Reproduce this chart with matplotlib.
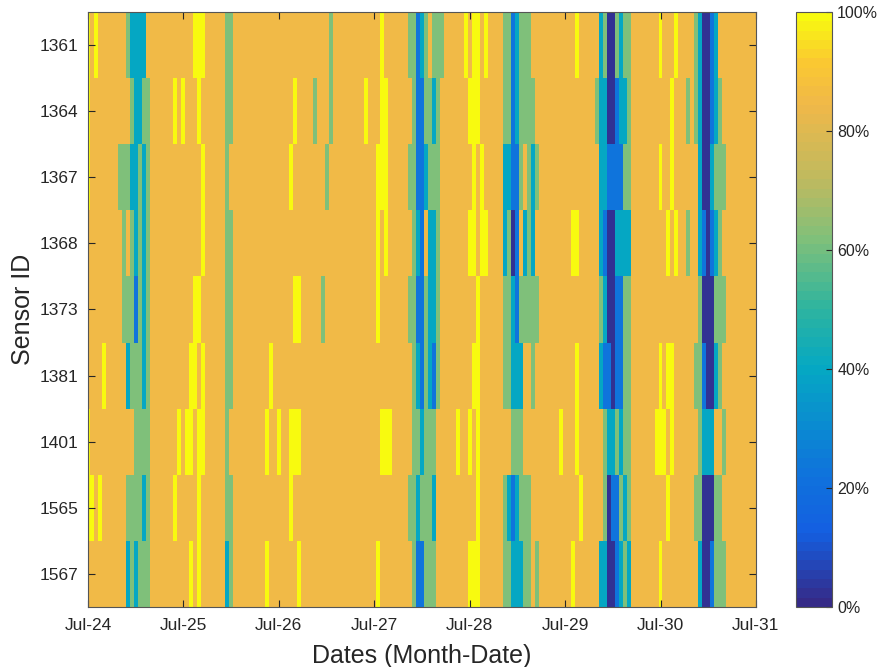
import numpy as np
import matplotlib
matplotlib.use("Agg")
import matplotlib.pyplot as plt
from matplotlib.colors import LinearSegmentedColormap

plt.rcParams['font.family'] = ['Liberation Sans', 'DejaVu Sans']

sensors = ['1361', '1364', '1367', '1368', '1373', '1381', '1401', '1565', '1567']
day_labels = ['Jul-24', 'Jul-25', 'Jul-26', 'Jul-27', 'Jul-28', 'Jul-29', 'Jul-30', 'Jul-31']
n_hours = 169          # hourly samples, Jul-24 00:00 .. Jul-31 00:00
baseline = 85          # availability (%) for every hour not listed below

# (first hour, last hour, availability %) for each sensor
s1361 = [(0, 0, 100), (2, 2, 100), (10, 10, 62), (11, 14, 40), (27, 29, 100), (35, 36, 62),
         (61, 61, 62), (74, 74, 100), (81, 82, 62), (83, 83, 22), (84, 84, 40), (85, 85, 62),
         (87, 89, 62), (95, 95, 100), (97, 98, 100), (100, 100, 100), (105, 106, 62),
         (107, 107, 22), (108, 108, 40), (109, 111, 62), (123, 123, 100), (129, 129, 40),
         (130, 130, 62), (131, 132, 2), (133, 133, 62), (134, 134, 40), (135, 136, 62),
         (144, 144, 100), (148, 148, 100), (153, 153, 62), (154, 154, 40), (155, 156, 2),
         (157, 157, 22), (158, 158, 40)]
s1364 = [(0, 0, 100), (11, 11, 62), (12, 13, 40), (14, 15, 62), (22, 22, 100), (24, 24, 100),
         (28, 28, 100), (35, 36, 62), (52, 52, 100), (57, 57, 62), (61, 61, 62), (70, 70, 100),
         (74, 75, 100), (82, 82, 62), (83, 84, 22), (85, 86, 62), (87, 87, 40), (88, 88, 62),
         (96, 98, 100), (105, 106, 62), (107, 107, 22), (108, 108, 40), (109, 112, 62),
         (128, 128, 62), (129, 130, 40), (131, 132, 2), (133, 133, 22), (134, 135, 40),
         (136, 136, 62), (147, 147, 100), (151, 151, 62), (153, 153, 62), (154, 154, 40),
         (155, 156, 2), (157, 157, 22), (158, 158, 40), (159, 159, 62)]
s1367 = [(0, 0, 100), (8, 10, 62), (11, 12, 40), (13, 13, 62), (14, 14, 40), (15, 15, 62),
         (29, 29, 100), (35, 35, 62), (51, 51, 100), (60, 60, 62), (73, 75, 100), (81, 82, 62),
         (83, 84, 22), (85, 85, 40), (86, 88, 62), (97, 97, 100), (99, 99, 100), (105, 106, 40),
         (107, 108, 22), (109, 109, 62), (111, 111, 62), (112, 112, 40), (113, 113, 62),
         (129, 130, 40), (131, 134, 22), (135, 136, 62), (144, 144, 100), (147, 147, 100),
         (154, 154, 40), (155, 156, 2), (157, 157, 40), (158, 160, 62)]
s1368 = [(9, 9, 62), (11, 11, 62), (12, 12, 40), (13, 13, 62), (14, 14, 40), (15, 15, 62),
         (29, 29, 100), (35, 36, 62), (73, 73, 100), (75, 75, 100), (82, 82, 62), (83, 83, 40),
         (84, 84, 22), (86, 87, 40), (88, 88, 62), (96, 97, 100), (99, 100, 100), (105, 105, 40),
         (106, 106, 62), (107, 107, 2), (108, 108, 22), (110, 110, 40), (111, 111, 62),
         (112, 112, 40), (122, 123, 100), (129, 129, 40), (130, 130, 22), (131, 132, 2),
         (133, 136, 40), (146, 146, 100), (148, 148, 100), (151, 151, 62), (154, 154, 40),
         (155, 155, 22), (156, 156, 2), (157, 157, 22), (158, 158, 40), (159, 159, 62)]
s1373 = [(9, 11, 62), (12, 12, 22), (13, 13, 62), (14, 14, 40), (15, 15, 62), (27, 28, 100),
         (35, 36, 62), (52, 53, 100), (59, 59, 62), (73, 73, 100), (81, 82, 62), (83, 84, 22),
         (85, 85, 62), (86, 87, 40), (88, 88, 62), (98, 98, 100), (105, 106, 62), (107, 107, 40),
         (108, 108, 22), (109, 113, 62), (129, 129, 62), (130, 130, 40), (131, 132, 2),
         (133, 134, 22), (135, 136, 62), (154, 154, 62), (155, 157, 2), (158, 160, 62)]
s1381 = [(4, 4, 100), (10, 10, 40), (11, 13, 62), (14, 14, 40), (15, 15, 62), (26, 27, 100),
         (29, 29, 100), (35, 36, 62), (46, 46, 100), (82, 82, 62), (83, 83, 40), (84, 84, 22),
         (85, 85, 62), (86, 86, 40), (87, 87, 22), (88, 88, 62), (97, 98, 100), (105, 106, 62),
         (107, 109, 40), (112, 112, 62), (123, 123, 100), (129, 129, 40), (130, 131, 22),
         (132, 132, 2), (133, 134, 22), (135, 136, 62), (144, 144, 100), (146, 147, 100),
         (153, 154, 62), (155, 155, 22), (156, 157, 2), (158, 158, 40), (159, 159, 62)]
s1401 = [(0, 0, 100), (12, 15, 62), (23, 23, 100), (25, 26, 100), (28, 29, 100), (35, 35, 62),
         (45, 45, 100), (48, 48, 100), (51, 53, 100), (74, 76, 100), (82, 83, 62), (84, 84, 40),
         (85, 87, 62), (93, 93, 100), (96, 96, 100), (98, 98, 100), (107, 109, 62),
         (119, 119, 100), (123, 123, 100), (130, 130, 62), (131, 132, 40), (133, 133, 62),
         (134, 134, 40), (135, 136, 62), (143, 145, 100), (147, 147, 100), (154, 154, 62),
         (155, 157, 40), (160, 160, 62)]
s1565 = [(0, 1, 100), (3, 3, 100), (10, 13, 62), (14, 14, 40), (15, 15, 62), (22, 22, 100),
         (28, 28, 100), (35, 36, 62), (51, 51, 100), (81, 82, 62), (83, 83, 40), (84, 86, 62),
         (87, 87, 40), (98, 98, 100), (105, 105, 62), (106, 106, 40), (107, 107, 22),
         (108, 108, 40), (109, 111, 62), (124, 124, 100), (130, 130, 62), (131, 131, 2),
         (132, 133, 22), (134, 134, 62), (135, 135, 40), (136, 136, 62), (146, 146, 100),
         (153, 154, 62), (155, 157, 2), (158, 159, 62)]
s1567 = [(10, 10, 40), (11, 11, 62), (12, 12, 40), (13, 15, 62), (26, 26, 100), (28, 28, 100),
         (35, 35, 40), (36, 36, 62), (45, 45, 100), (53, 53, 100), (73, 73, 100), (82, 82, 62),
         (83, 84, 22), (85, 87, 62), (96, 98, 100), (105, 106, 62), (107, 109, 40),
         (110, 111, 62), (113, 113, 62), (122, 122, 100), (129, 130, 40), (131, 132, 2),
         (133, 133, 22), (134, 134, 40), (135, 135, 62), (136, 136, 40), (144, 144, 100),
         (154, 154, 40), (155, 156, 2), (157, 157, 22), (158, 160, 62)]

readings = [s1361, s1364, s1367, s1368, s1373, s1381, s1401, s1565, s1567]

grid = np.full((len(sensors), n_hours), baseline, dtype=float)
for i, runs in enumerate(readings):
    for first, last, pct in runs:
        grid[i, first:last + 1] = pct

# parula-like map, 64 steps
anchors = [(0.00, (53, 42, 135)), (0.12, (20, 95, 225)), (0.22, (15, 115, 220)),
           (0.40, (5, 168, 195)), (0.50, (45, 180, 160)), (0.62, (128, 192, 122)),
           (0.72, (190, 186, 95)), (0.85, (240, 184, 73)), (0.92, (250, 200, 50)),
           (1.00, (248, 250, 15))]
cmap = LinearSegmentedColormap.from_list(
    'parula_like', [(p, tuple(c / 255 for c in rgb)) for p, rgb in anchors], N=64)

fig = plt.figure(figsize=(8.8, 6.67), dpi=100)
ax = fig.add_axes([0.1, 0.09, 0.759, 0.892])
cax = fig.add_axes([0.905, 0.09, 0.04, 0.892])

x_edges = np.arange(n_hours + 1) - 0.5
y_edges = np.arange(len(sensors) + 1) - 0.5
mesh = ax.pcolormesh(x_edges, y_edges, grid, cmap=cmap, vmin=0, vmax=100)

text_col = '#262626'
ax.set_xlim(0, 168)
ax.set_ylim(len(sensors) - 0.5, -0.5)
ax.set_xticks(np.arange(0, 169, 24))
ax.set_xticklabels(day_labels, fontsize=12.5, color=text_col)
ax.set_yticks(np.arange(len(sensors)))
ax.set_yticklabels(sensors, fontsize=12.5, color=text_col)
ax.tick_params(direction='in', top=True, right=True, length=5, width=0.8, color=text_col)
ax.tick_params(axis='x', pad=8)
ax.tick_params(axis='y', pad=7)
for sp in ax.spines.values():
    sp.set_color('#555555')
    sp.set_linewidth(0.8)
ax.set_xlabel('Dates (Month-Date)', fontsize=18, color=text_col, labelpad=8)
ax.set_ylabel('Sensor ID', fontsize=18, color=text_col, labelpad=3)

cb = fig.colorbar(mesh, cax=cax, ticks=[0, 20, 40, 60, 80, 100])
cb.ax.set_yticklabels([f'{t}%' for t in [0, 20, 40, 60, 80, 100]], fontsize=11.5, color=text_col)
cb.ax.tick_params(direction='in', length=4, width=0.8, color=text_col, pad=4)
cb.outline.set_edgecolor('#555555')
cb.outline.set_linewidth(0.8)

fig.savefig('out.png', dpi=100)
